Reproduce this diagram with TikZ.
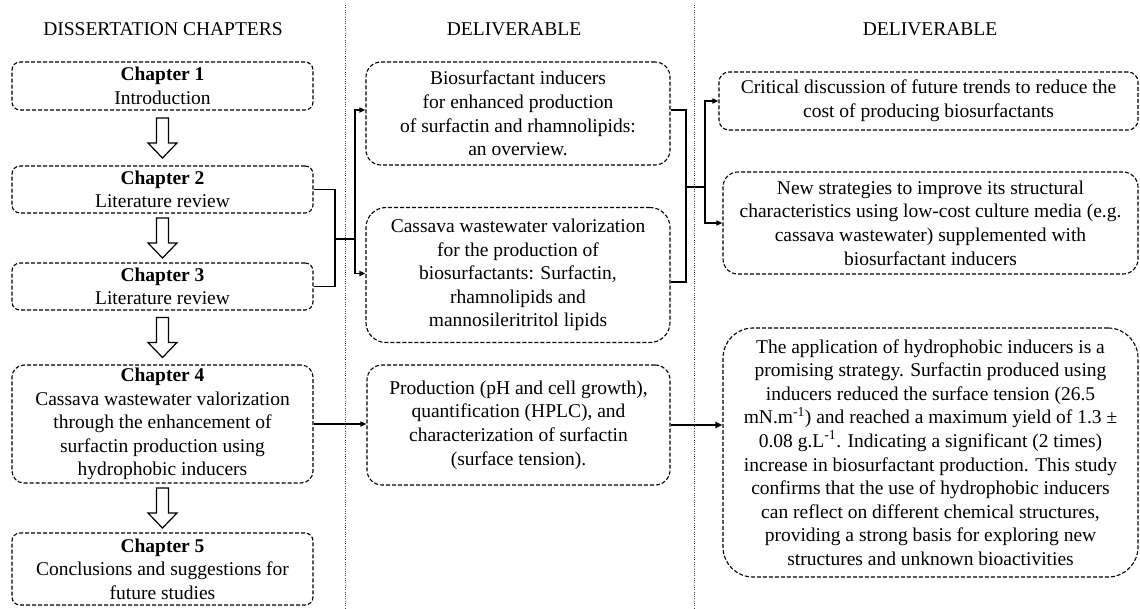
\documentclass[tikz,border=0pt]{standalone}
\usepackage{fontspec}
\setmainfont{Liberation Serif}
\usetikzlibrary{arrows.meta,calc}
\begin{document}
\begin{tikzpicture}[x=1pt,y=-1pt,
  body/.style={font=\fontsize{19.5}{23.6}\selectfont},
  hdr/.style={body, inner sep=0pt},
  box/.style={draw, dash pattern=on 4pt off 2pt, line width=1.1pt, align=center, inner sep=0pt, body},
  conn/.style={line width=1.6pt},
  tip/.style={-{Triangle[length=6pt,width=5pt]}},
  hollow/.style={draw, line width=1.2pt, fill=white},
  sep/.style={line width=0.6pt, dash pattern=on 1pt off 1.3pt, black!75}
]
\useasboundingbox (0,0) rectangle (1140,608);

% column separators
\draw[sep] (345,5) -- (345,608);
\draw[sep] (694,5) -- (694,608);

% headers
\node[hdr] (h1) at (163,29) {DISSERTATION CHAPTERS};
\node[hdr] (h2) at (514,29) {DELIVERABLE};
\node[hdr] (h3) at (930,29) {DELIVERABLE};

% chapters
\node[box, rounded corners=8pt, minimum width=301pt, minimum height=48pt] (c1) at (162.5,86) {\textbf{Chapter 1}\\Introduction};
\node[box, rounded corners=8pt, minimum width=301pt, minimum height=47pt] (c2) at (162.5,189.5) {\textbf{Chapter 2}\\Literature review};
\node[box, rounded corners=8pt, minimum width=301pt, minimum height=47pt] (c3) at (162.5,286.5) {\textbf{Chapter 3}\\Literature review};
\node[box, rounded corners=12pt, minimum width=301pt, minimum height=118pt] (c4) at (162.5,424) {\textbf{Chapter 4}\\Cassava wastewater valorization\\through the enhancement of\\surfactin production using\\hydrophobic inducers};
\node[box, rounded corners=8pt, minimum width=301pt, minimum height=72pt] (c5) at (162.5,569) {\textbf{Chapter 5}\\Conclusions and suggestions for\\future studies};

% middle deliverables
\node[box, rounded corners=15pt, minimum width=304pt, minimum height=103pt] (A) at (518,113.5) {Biosurfactant inducers\\for enhanced production\\of surfactin and rhamnolipids:\\an overview.};
\node[box, rounded corners=20pt, minimum width=304pt, minimum height=135pt] (B) at (518,275) {Cassava wastewater valorization\\for the production of\\biosurfactants: Surfactin,\\rhamnolipids and\\mannosileritritol lipids};
\node[box, rounded corners=15pt, minimum width=303pt, minimum height=120pt] (C) at (518.5,425) {Production (pH and cell growth),\\quantification (HPLC), and\\characterization of surfactin\\(surface tension).};

% right deliverables
\node[box, rounded corners=10pt, minimum width=419pt, minimum height=58pt] (D) at (928.5,101) {Critical discussion of future trends to reduce the\\cost of producing biosurfactants};
\node[box, rounded corners=15pt, minimum width=415pt, minimum height=102pt] (E) at (930.5,223) {New strategies to improve its structural\\characteristics using low-cost culture media (e.g.\\cassava wastewater) supplemented with\\biosurfactant inducers};
\node[box, rounded corners=30pt, minimum width=415pt, minimum height=249pt] (F) at (930.5,452.5) {The application of hydrophobic inducers is a\\promising strategy. Surfactin produced using\\inducers reduced the surface tension (26.5\\mN.m\textsuperscript{-1}) and reached a maximum yield of 1.3 ±\\0.08 g.L\textsuperscript{-1}. Indicating a significant (2 times)\\increase in biosurfactant production. This study\\confirms that the use of hydrophobic inducers\\can reflect on different chemical structures,\\providing a strong basis for exploring new\\structures and unknown bioactivities};

% hollow arrows between chapters
\newcommand\harrow[2]{%
  \draw[hollow] let \p1=(#1.south), \p3=($(#1.south)!0.5!(#2.north)$) in
    (\x1-6pt,\y3+20pt) -- (\x1-6pt,\y3-5pt) -- (\x1-14.5pt,\y3-5pt) -- (\x1,\y3-20pt)
    -- (\x1+14.5pt,\y3-5pt) -- (\x1+6pt,\y3-5pt) -- (\x1+6pt,\y3+20pt) -- cycle;}
\harrow{c1}{c2}
\harrow{c2}{c3}
\harrow{c3}{c4}
\harrow{c4}{c5}

% chapters 2/3 -> A/B
\coordinate (j1) at (335,239);
\coordinate (j2) at (355,239);
\draw[conn] (c2.east) -- (c2.east -| j1) -- (c3.east -| j1) -- (c3.east);
\draw[conn] (j1) -- (j2);
\draw[conn,tip] (j2) |- ($(A.west)+(0,-3.5)$);
\draw[conn,tip] (j2) |- ($(B.west)+(0,-1.5)$);

% A/B -> D/E
\coordinate (j3) at (686,187);
\coordinate (j4) at (705,187);
\draw[conn] ($(A.east)+(0,-3.5)$) -- ($(A.east -| j3)+(0,-3.5)$) -- ($(B.east -| j3)+(0,7)$) -- ($(B.east)+(0,7)$);
\draw[conn] (j3) -- (j4);
\draw[conn,tip] (j4) |- (D.west);
\draw[conn,tip] (j4) |- (E.west);

% chapter 4 -> C -> F
\draw[line width=1.3pt,tip] (c4.east) -- (c4.east -| C.west);
\draw[line width=2.2pt,-{Triangle[length=7pt,width=6pt]}] (C.east) -- (C.east -| F.west);
\end{tikzpicture}
\end{document}
